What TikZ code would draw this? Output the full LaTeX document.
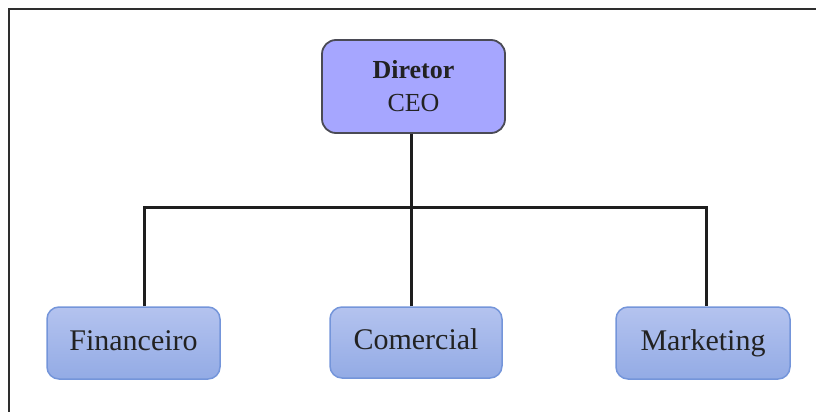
\documentclass[tikz,border=0pt]{standalone}
\usepackage{fontspec}
\setmainfont{Liberation Serif}
\definecolor{ceofill}{HTML}{A6A6FF}
\definecolor{ceodraw}{HTML}{4A4A55}
\definecolor{deptop}{HTML}{B4C3EF}
\definecolor{depbot}{HTML}{93ABE5}
\definecolor{depdraw}{HTML}{7495DA}
\definecolor{linec}{HTML}{1E1E1E}
\definecolor{framec}{HTML}{2E2E2E}
\definecolor{txt}{HTML}{222222}
\tikzset{
  ceobox/.style={rectangle, rounded corners=14pt, draw=ceodraw, line width=1.8pt,
    fill=ceofill, minimum width=183pt, minimum height=93pt, align=center,
    text=txt, font=\fontsize{26}{33}\selectfont, inner sep=0pt},
  depbox/.style={rectangle, rounded corners=12pt, draw=depdraw, line width=1.5pt,
    top color=deptop, bottom color=depbot, minimum width=173pt, minimum height=72pt,
    text=txt, font=\fontsize{30}{36}\selectfont, inner sep=0pt,
    text height=20pt, text depth=6pt},
  conn/.style={draw=linec, line width=3pt},
  framel/.style={draw=framec, line width=2.8pt}
}
\begin{document}
\begin{tikzpicture}[x=1pt,y=-1pt]
\useasboundingbox (0,0) rectangle (816,412);
\draw[framel] (9,420) -- (9,9) -- (820,9);
\node[ceobox] (ceo) at (413.5,86.5) {\textbf{Diretor}\\CEO};
\node[depbox] (fin) at (133.5,343) {Financeiro};
\node[depbox, minimum width=172pt, minimum height=71pt] (com) at (416,342.5) {Comercial};
\node[depbox, minimum width=174pt] (mkt) at (703,343) {Marketing};
\coordinate (bus) at (411,207);
\draw[conn] ([xshift=-2.5pt]ceo.south) -- ([xshift=-2.5pt]ceo.south |- bus);
\draw[conn] ([xshift=10.5pt]fin.north) |- ([xshift=3pt]mkt.north |- bus) -- ([xshift=3pt]mkt.north);
\draw[conn] ([xshift=-5pt]com.north) -- ([xshift=-5pt]com.north |- bus);
\end{tikzpicture}
\end{document}
